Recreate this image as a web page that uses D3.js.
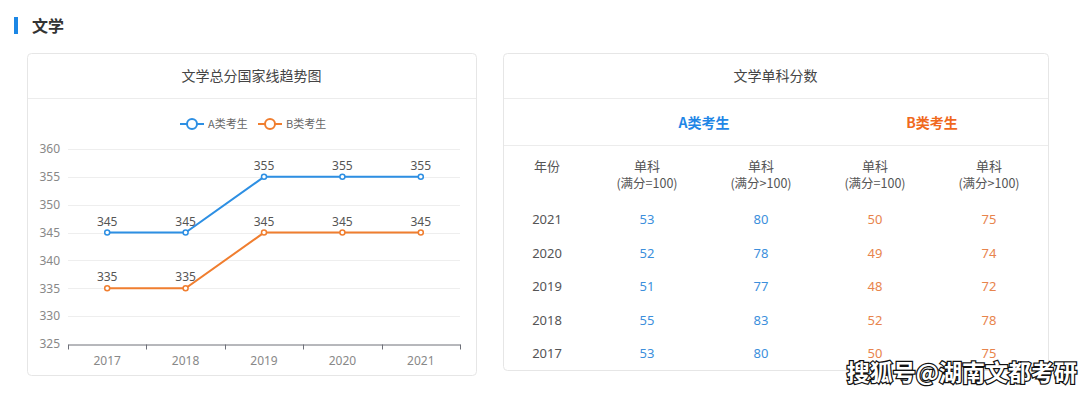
<!DOCTYPE html>
<html>
<head>
<meta charset="utf-8">
<script src="https://cdn.jsdelivr.net/npm/d3@7"></script>
<style>
  body { margin: 0; background: #fff; }
  svg { display: block; font-family: "Noto Sans CJK SC", "Noto Sans", sans-serif; }
</style>
</head>
<body>
<svg id="page" width="1080" height="393"></svg>
<script>
// trend chart data
const years = ["2017", "2018", "2019", "2020", "2021"];
const aTotal = [345, 345, 355, 355, 355];
const bTotal = [335, 335, 345, 345, 345];
const yTicks = [325, 330, 335, 340, 345, 350, 355, 360];

// single subject table data
const tableYears = ["2021", "2020", "2019", "2018", "2017"];
const aSingle100 = [53, 52, 51, 55, 53];
const aSingleOver = [80, 78, 77, 83, 80];
const bSingle100 = [50, 49, 48, 52, 50];
const bSingleOver = [75, 74, 72, 78, 75];
const colHeads = ["(满分=100)", "(满分>100)", "(满分=100)", "(满分>100)"];

const blue = "#2d8fe3";
const orange = "#f07e2f";

const svg = d3.select("svg#page");

// section heading
svg.append("rect").attr("x", 14).attr("y", 17).attr("width", 4).attr("height", 17).attr("fill", "#1c87e5");
svg.append("text").attr("x", 32).attr("y", 32).attr("font-size", 16).attr("font-weight", "bold")
    .attr("fill", "#333").text("文学");

// cards
function card(x, y, w, h, title) {
    const g = svg.append("g");
    g.append("rect").attr("x", x + 0.5).attr("y", y + 0.5).attr("width", w).attr("height", h)
        .attr("rx", 4).attr("fill", "#fff").attr("stroke", "#e6e6e6");
    g.append("line").attr("x1", x + 1).attr("x2", x + w).attr("y1", 98.5).attr("y2", 98.5).attr("stroke", "#ececec");
    g.append("text").attr("x", x + w / 2).attr("y", 81).attr("text-anchor", "middle")
        .attr("font-size", 14).attr("fill", "#444").text(title);
    return g;
}
card(27, 53, 449, 322, "文学总分国家线趋势图");
card(503, 53, 545, 317, "文学单科分数");

// ---- line chart ----
const x = d3.scaleBand().domain(years).range([68, 460]);
const y = d3.scaleLinear().domain([325, 360]).range([344, 149]);
const cx = d => x(d) + x.bandwidth() / 2;

const chart = svg.append("g");

chart.append("g").selectAll("line").data(yTicks.slice(1)).enter().append("line")
    .attr("x1", 68).attr("x2", 460)
    .attr("y1", d => Math.round(y(d)) + 0.5).attr("y2", d => Math.round(y(d)) + 0.5)
    .attr("stroke", "#eeeeee");

const yAxis = chart.append("g").attr("transform", "translate(68,0)")
    .call(d3.axisLeft(y).tickValues(yTicks).tickSize(0).tickPadding(8));
yAxis.select(".domain").remove();
yAxis.selectAll("text").attr("font-size", 12).attr("fill", "#888").attr("font-family", "\"Noto Sans\", sans-serif");

const xAxis = chart.append("g").attr("transform", "translate(0,344.5)")
    .call(d3.axisBottom(x).tickSize(0).tickPadding(12));
xAxis.select(".domain").attr("stroke", "#6e7079");
xAxis.selectAll("text").attr("font-size", 12).attr("fill", "#888").attr("font-family", "\"Noto Sans\", sans-serif");
xAxis.append("g").selectAll("line").data(d3.range(years.length + 1)).enter().append("line")
    .attr("x1", i => Math.round(68 + i * x.step()) + 0.5).attr("x2", i => Math.round(68 + i * x.step()) + 0.5)
    .attr("y1", 0).attr("y2", 5).attr("stroke", "#6e7079");

const line = d3.line().x(d => cx(d[0])).y(d => y(d[1]));

[[aTotal, blue], [bTotal, orange]].forEach(([vals, color]) => {
    const pts = years.map((yr, i) => [yr, vals[i]]);
    chart.append("path").datum(pts).attr("d", line).attr("fill", "none")
        .attr("stroke", color).attr("stroke-width", 2);
    chart.append("g").selectAll("circle").data(pts).enter().append("circle")
        .attr("cx", d => cx(d[0])).attr("cy", d => y(d[1])).attr("r", 2.5)
        .attr("fill", "#fff").attr("stroke", color).attr("stroke-width", 1.5);
    chart.append("g").selectAll("text").data(pts).enter().append("text")
        .attr("x", d => cx(d[0])).attr("y", d => y(d[1]) - 7)
        .attr("text-anchor", "middle").attr("font-size", 12).attr("fill", "#555")
        .attr("font-family", "\"Noto Sans\", sans-serif")
        .text(d => d[1]);
});

// legend
const legend = svg.append("g");
[["A类考生", blue, 180], ["B类考生", orange, 258]].forEach(([label, color, lx]) => {
    legend.append("line").attr("x1", lx).attr("x2", lx + 24).attr("y1", 124).attr("y2", 124)
        .attr("stroke", color).attr("stroke-width", 2);
    legend.append("circle").attr("cx", lx + 12).attr("cy", 124).attr("r", 5)
        .attr("fill", "#fff").attr("stroke", color).attr("stroke-width", 2);
    legend.append("text").attr("x", lx + 28).attr("y", 128).attr("font-size", 11)
        .attr("fill", "#666").text(label);
});

// ---- table ----
const table = svg.append("g");
const colX = d3.scalePoint().domain([0, 1, 2, 3]).range([647, 989]);

table.append("text").attr("x", (colX(0) + colX(1)) / 2).attr("y", 128).attr("text-anchor", "middle")
    .attr("font-size", 14).attr("font-weight", "bold").attr("fill", "#1f86e6").text("A类考生");
table.append("text").attr("x", (colX(2) + colX(3)) / 2).attr("y", 128).attr("text-anchor", "middle")
    .attr("font-size", 14).attr("font-weight", "bold").attr("fill", "#f0691d").text("B类考生");
table.append("line").attr("x1", 504).attr("x2", 1048).attr("y1", 145.5).attr("y2", 145.5).attr("stroke", "#ececec");

table.append("text").attr("x", 547).attr("y", 171).attr("text-anchor", "middle")
    .attr("font-size", 13).attr("fill", "#555").text("年份");
colHeads.forEach((h, i) => {
    table.append("text").attr("x", colX(i)).attr("y", 171).attr("text-anchor", "middle")
        .attr("font-size", 13).attr("fill", "#555").text("单科");
    table.append("text").attr("x", colX(i)).attr("y", 188).attr("text-anchor", "middle")
        .attr("font-size", 12.5).attr("fill", "#555").text(h);
});

const rowY = d3.scalePoint().domain(tableYears).range([219, 353]);
const cols = [[aSingle100, "#3c8fdc"], [aSingleOver, "#3c8fdc"], [bSingle100, "#e8844c"], [bSingleOver, "#e8844c"]];
tableYears.forEach((yr, r) => {
    table.append("text").attr("x", 547).attr("y", rowY(yr) + 5).attr("text-anchor", "middle")
        .attr("font-size", 13).attr("fill", "#555").attr("font-family", "\"Noto Sans\", sans-serif").text(yr);
    cols.forEach(([vals, color], c) => {
        table.append("text").attr("x", colX(c)).attr("y", rowY(yr) + 5).attr("text-anchor", "middle")
            .attr("font-size", 13).attr("fill", color).attr("font-family", "\"Noto Sans\", sans-serif").text(vals[r]);
    });
});

// watermark (overlaps the last row in the source too)
svg.append("text").attr("x", 1077).attr("y", 381).attr("text-anchor", "end")
    .attr("font-size", 23).attr("font-weight", "bold").attr("fill", "#fff")
    .attr("stroke", "#111").attr("stroke-width", 2.5).attr("paint-order", "stroke")
    .text("搜狐号@湖南文都考研");
</script>
</body>
</html>
